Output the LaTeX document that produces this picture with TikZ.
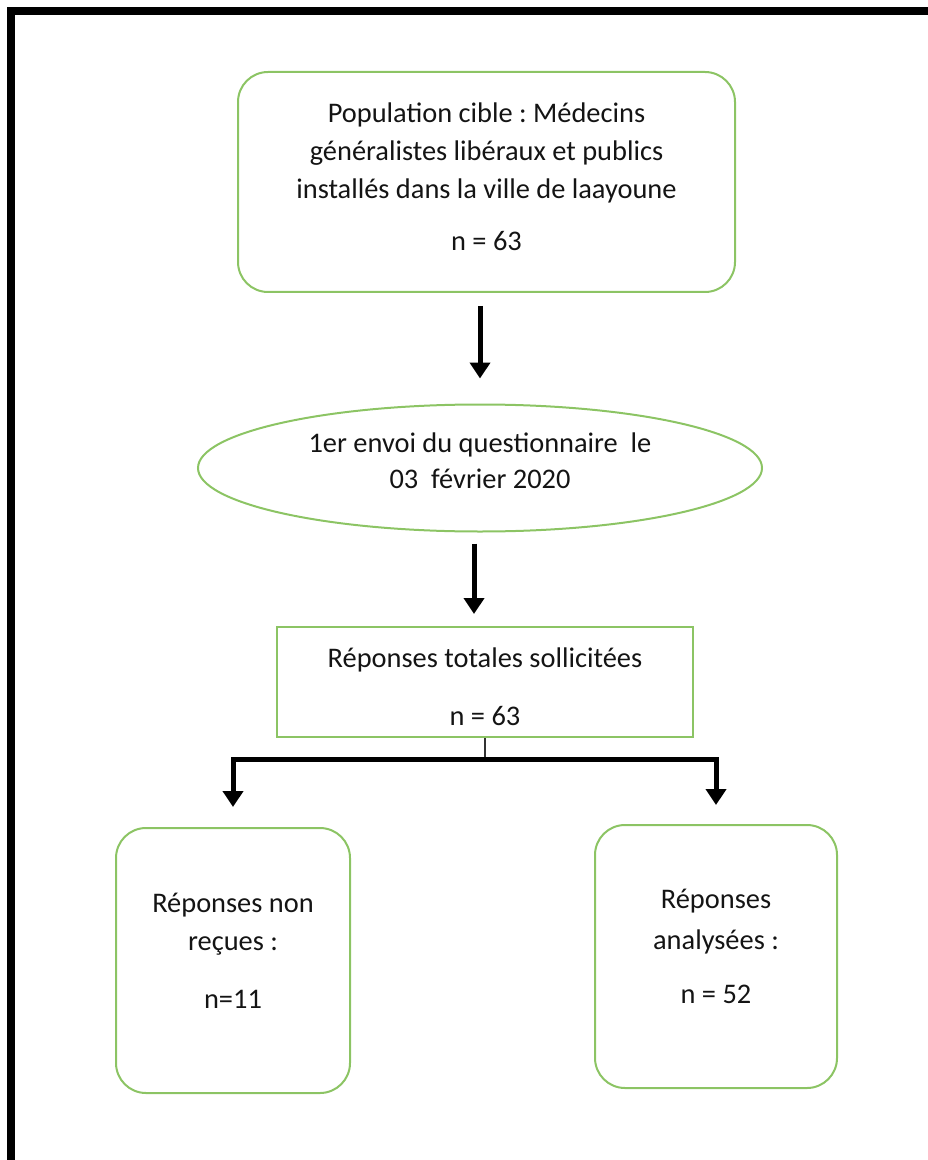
\documentclass[tikz,border=0pt]{standalone}
\usepackage{fontspec}
\setmainfont{Carlito}
\frenchspacing
\usetikzlibrary{shapes.geometric,arrows.meta}
\definecolor{vertcadre}{RGB}{140,196,100}
\definecolor{texte}{RGB}{20,20,20}
\tikzset{
  boite/.style={draw=vertcadre,line width=1pt,rounded corners=15pt,inner sep=0pt},
  rect/.style={boite,rounded corners=0pt},
  ovale/.style={boite,ellipse,rounded corners=0pt},
  etiq/.style={align=center,inner sep=0pt,text=texte,font=\fontsize{14.2}{19}\selectfont},
  fleche/.style={line width=2.5pt,-{Triangle[width=10pt,length=8pt]}},
  lien/.style={line width=0.7pt,draw=black!80}
}
\begin{document}
\begin{tikzpicture}[x=0.5pt,y=-0.5pt]
\useasboundingbox (0,0) rectangle (927,1160);
\draw [line width=4pt](11,1175) -- (11,11.5) -- (945,11.5);
\node [boite,minimum width=248.5pt,minimum height=110pt] (pop) at (486.5,182) {};
\node [ovale,minimum width=282pt,minimum height=63.5pt] (envoi) at (480,468) {};
\node [rect,minimum width=208pt,minimum height=55pt] (rep) at (485,682) {};
\node [boite,minimum width=117pt,minimum height=132.5pt] (non) at (233,960.5) {};
\node [boite,minimum width=121pt,minimum height=131.5pt] (ana) at (716,956.5) {};
\node [etiq] (poptxt) at ([yshift=2.5pt]pop)
  {Population cible : Médecins\\ généralistes libéraux et publics\\ installés dans la ville de laayoune\\[7pt] n = 63};
\node [etiq] (envoitxt) at ([yshift=3.5pt]envoi)
  {1er envoi du questionnaire\ \ le\\[-1pt] 03\ \ février 2020};
\node [etiq] (reptxt) at ([yshift=-2.5pt]rep)
  {Réponses totales sollicitées\\[10pt] n = 63};
\node [etiq] (nontxt) at ([yshift=5pt]non)
  {Réponses non\\ reçues :\\[10pt] n=11};
\node [etiq] (anatxt) at ([yshift=5pt]ana)
  {Réponses\\[1.5pt] analysées :\\[8pt] n = 52};
\draw [fleche,shorten <=6.5pt,shorten >=12.5pt](pop.south -| envoi.north) -- (envoi.north);
\draw [fleche,shorten <=5.5pt,shorten >=6pt]([xshift=-3pt]envoi.south) -- ([xshift=-3pt]envoi.south |- rep.north);
\draw [lien](rep.south) -- ++(0,21) coordinate (split);
\draw [fleche,shorten >=10pt](split) -| (non.north);
\draw [fleche,shorten >=9.5pt](split) -| (ana.north);
\end{tikzpicture}
\end{document}
